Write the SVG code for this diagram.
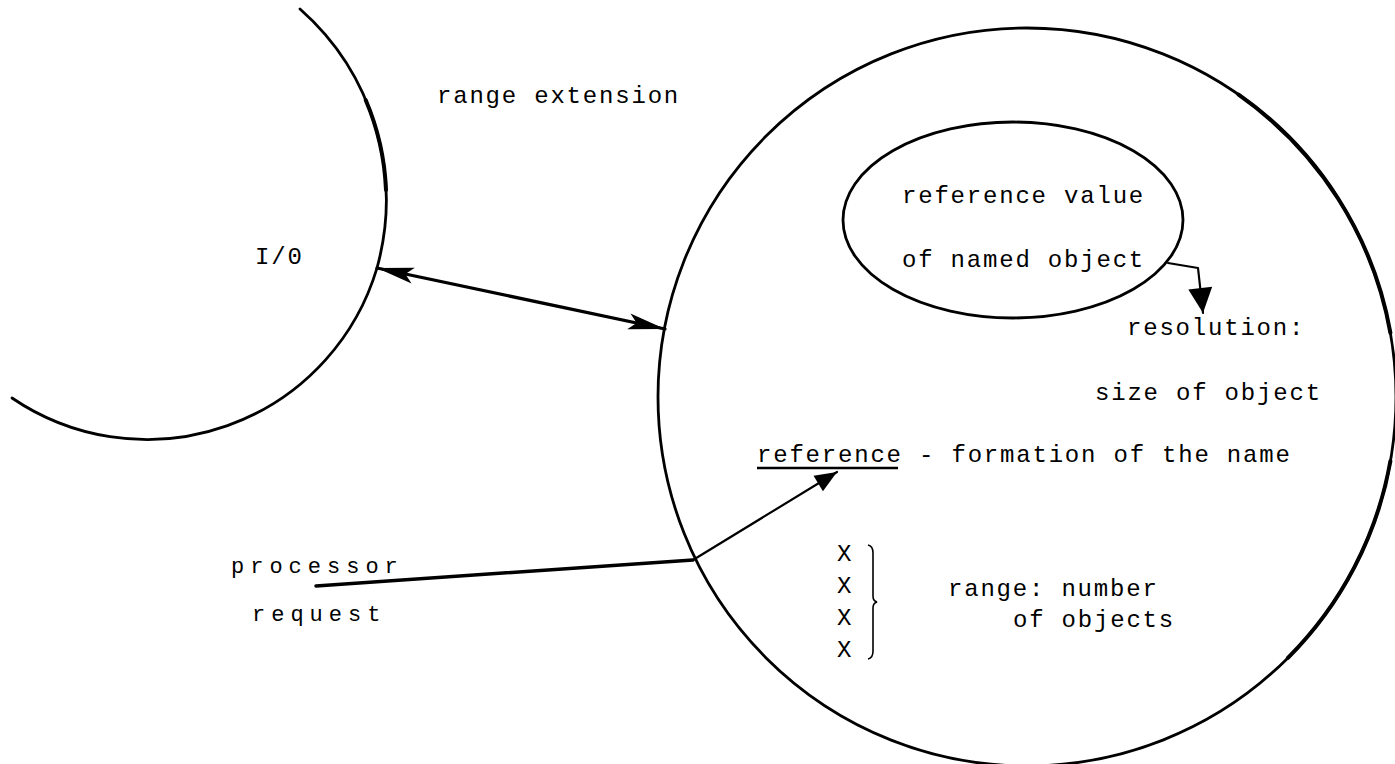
<svg xmlns="http://www.w3.org/2000/svg" width="1395" height="764" viewBox="0 0 1395 764">
  <style>
    .bg { fill: #ffffff; }
    .outline { fill: none; stroke: #000; stroke-width: 2.8; stroke-linecap: round; }
    .heavy { fill: none; stroke: #000; stroke-width: 4; stroke-linecap: round; }
    .conn { fill: none; stroke: #000; stroke-linecap: round; stroke-linejoin: round; }
    .t { font-family: "Liberation Mono", "DejaVu Sans Mono", monospace; font-size: 24px; letter-spacing: 1.8px; fill: #000; }
    .tw { font-family: "Liberation Mono", "DejaVu Sans Mono", monospace; font-size: 22px; letter-spacing: 6px; fill: #000; }
  </style>
  <defs>
    <marker id="barb" markerUnits="userSpaceOnUse" markerWidth="44" markerHeight="24" viewBox="-40 -12 44 24" refX="0" refY="0" orient="auto-start-reverse">
      <path d="M0,0 L-37,-8 L-29,0 L-37,8 Z" fill="#000"/>
    </marker>
    <marker id="tri" markerUnits="userSpaceOnUse" markerWidth="28" markerHeight="28" viewBox="-26 -14 28 28" refX="0" refY="0" orient="auto">
      <path d="M0,0 L-22,-9 L-22,9 Z" fill="#000"/>
    </marker>
    <marker id="tri2" markerUnits="userSpaceOnUse" markerWidth="30" markerHeight="30" viewBox="-28 -15 30 30" refX="0" refY="0" orient="auto">
      <path d="M0,0 L-25,-12 L-25,12 Z" fill="#000"/>
    </marker>
  </defs>
  <rect class="bg" x="0" y="0" width="1395" height="764"/>

  <g id="node-io">
    <path class="outline" d="M300,9 A255,255 0 0 1 377,268 A240,240 0 0 1 12,398"/>
    <path class="heavy" d="M365.7,100 A255,255 0 0 1 386,190"/>
    <text class="t" x="255" y="264">I/0</text>
  </g>

  <g id="label-range-extension">
    <text class="t" x="437" y="103">range extension</text>
  </g>

  <g id="node-memory">
    <circle class="outline" cx="1027" cy="397" r="369"/>
    <path class="heavy" d="M1238.6,94.7 A369,369 0 0 1 1390.4,332.9"/>
    <path class="heavy" d="M1390.4,461.1 A369,369 0 0 1 1287.9,657.9"/>
    <text class="t" x="1127" y="335">resolution:</text>
    <text class="t" x="1095" y="400">size of object</text>
    <text class="t" x="757" y="462">reference - formation of the name</text>
    <line x1="757" y1="468" x2="898" y2="468" stroke="#000" stroke-width="2.5"/>
    <text class="t" x="837" y="561">X</text>
    <text class="t" x="837" y="593">X</text>
    <text class="t" x="837" y="625">X</text>
    <text class="t" x="837" y="657">X</text>
    <path d="M868,545 Q873,546 873,553 L873,596 Q873,601 877,602 Q873,603 873,608 L873,651 Q873,658 868,659" fill="none" stroke="#000" stroke-width="1.6"/>
    <text class="t" x="948" y="596">range:  number</text>
    <text class="t" x="1013" y="627">of objects</text>
  </g>

  <g id="node-reference-value">
    <ellipse class="outline" cx="1013" cy="220" rx="170" ry="98"/>
    <text class="t" x="902" y="203">reference value</text>
    <text class="t" x="902" y="267">of named object</text>
  </g>

  <g id="node-processor-request">
    <text class="tw" x="231" y="573">processor</text>
    <text class="tw" x="252" y="621">request</text>
  </g>

  <g id="connectors">
    <line class="conn" x1="377" y1="268" x2="665" y2="329" stroke-width="3.2" marker-start="url(#barb)" marker-end="url(#barb)"/>
    <path class="conn" d="M1168,263 L1198,268 L1203,313" stroke-width="2.2" marker-end="url(#tri2)"/>
    <line class="conn" x1="316" y1="586" x2="693" y2="560" stroke-width="3.5"/>
    <line class="conn" x1="693" y1="560" x2="837" y2="472" stroke-width="2.2" marker-end="url(#tri)"/>
  </g>
</svg>
